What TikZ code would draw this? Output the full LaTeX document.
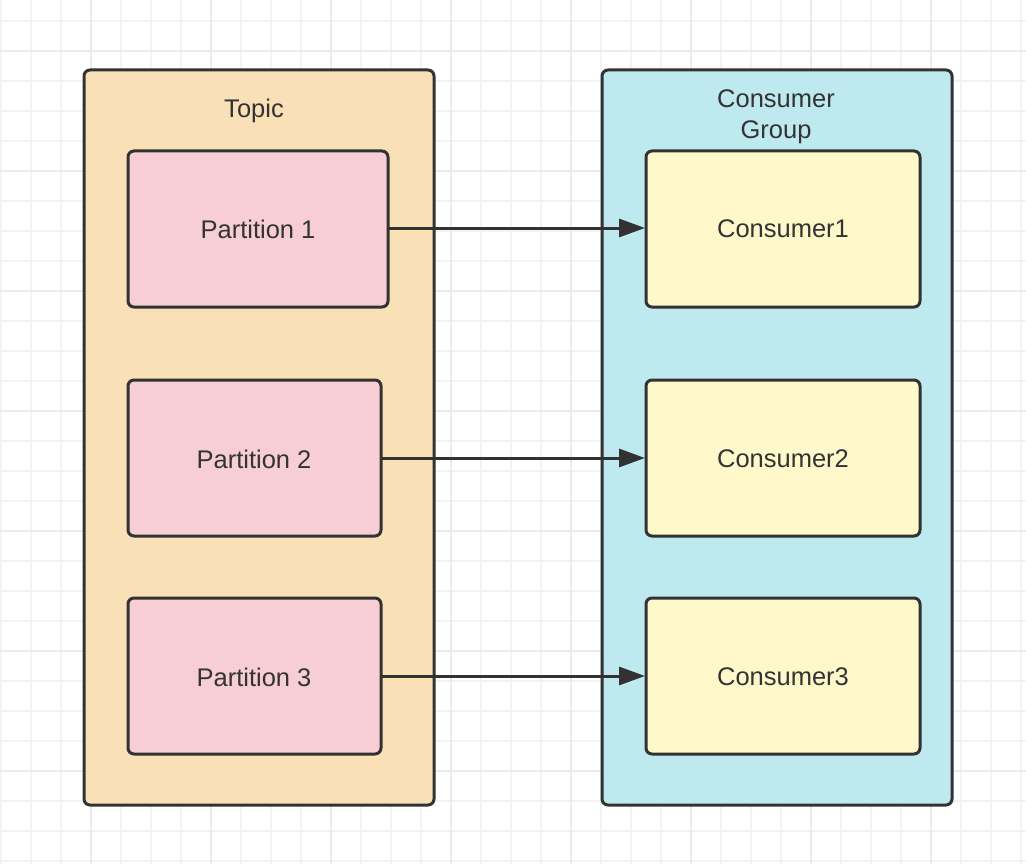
\documentclass[tikz,border=0pt]{standalone}
\usepackage{fontspec}
\setmainfont{Liberation Sans}
\usetikzlibrary{arrows.meta}
\definecolor{gridc}{HTML}{F3F3F3}
\definecolor{gridm}{HTML}{EBEBEB}
\definecolor{strokec}{HTML}{323232}
\definecolor{topicc}{HTML}{F9E0B7}
\definecolor{partc}{HTML}{F7CED4}
\definecolor{groupc}{HTML}{BEE9EF}
\definecolor{consc}{HTML}{FEF8CA}
\definecolor{textc}{HTML}{333333}
\tikzset{
  outerbox/.style={draw=strokec, line width=3pt, rounded corners=6pt},
  innerbox/.style={draw=strokec, line width=3pt, rounded corners=6pt, fill=partc},
  consbox/.style={draw=strokec, line width=3pt, rounded corners=6pt, fill=consc},
  lbl/.style={text=textc, font=\fontsize{25.5}{31}\selectfont, align=center},
  conn/.style={draw=strokec, line width=3pt, -{Triangle[length=26pt,width=18pt]}, shorten >=-1pt}
}
\begin{document}
\begin{tikzpicture}[x=1pt,y=-1pt]
\useasboundingbox (0,0) rectangle (1026,864);
\fill[white] (0,0) rectangle (1026,864);
% grid
\foreach \i in {0,...,34} {\draw[gridc, line width=1.8pt] ({1+30*\i},0) -- ({1+30*\i},864);}
\foreach \j in {0,...,28} {\draw[gridc, line width=1.8pt] (0,{21+30*\j}) -- (1026,{21+30*\j});}
\foreach \i in {0,...,8} {\draw[gridm, line width=1.8pt] ({91+120*\i},0) -- ({91+120*\i},864);}
\foreach \j in {0,...,6} {\draw[gridm, line width=1.8pt] (0,{51+120*\j}) -- (1026,{51+120*\j});}
% outer containers
\draw[outerbox, fill=topicc] (84,70) rectangle (434,805);
\draw[outerbox, fill=groupc] (602,70) rectangle (952,805);
\node[lbl] (topic) at (254,111) {Topic};
\node[lbl] (group) at (776,117) {Consumer\\Group};
% partitions
\draw[innerbox] (128,151) rectangle (388,307);
\node[lbl] (p1) at (258,229) {Partition 1};
\coordinate (p1e) at (388,228);
\draw[innerbox] (128,380) rectangle (381,536);
\node[lbl] (p2) at (254,459) {Partition 2};
\coordinate (p2e) at (381,458);
\draw[innerbox] (128,598) rectangle (381,754);
\node[lbl] (p3) at (254,677) {Partition 3};
\coordinate (p3e) at (381,676);
% consumers
\draw[consbox] (646,151) rectangle (920,307);
\node[lbl] (c1) at (783,229) {Consumer1};
\coordinate (c1w) at (644,228);
\draw[consbox] (646,380) rectangle (920,536);
\node[lbl] (c2) at (783,459) {Consumer2};
\coordinate (c2w) at (644,458);
\draw[consbox] (646,598) rectangle (920,754);
\node[lbl] (c3) at (783,677) {Consumer3};
\coordinate (c3w) at (644,676);
% arrows
\draw[conn] (p1e) -- (c1w);
\draw[conn] (p2e) -- (c2w);
\draw[conn] (p3e) -- (c3w);
\end{tikzpicture}
\end{document}
